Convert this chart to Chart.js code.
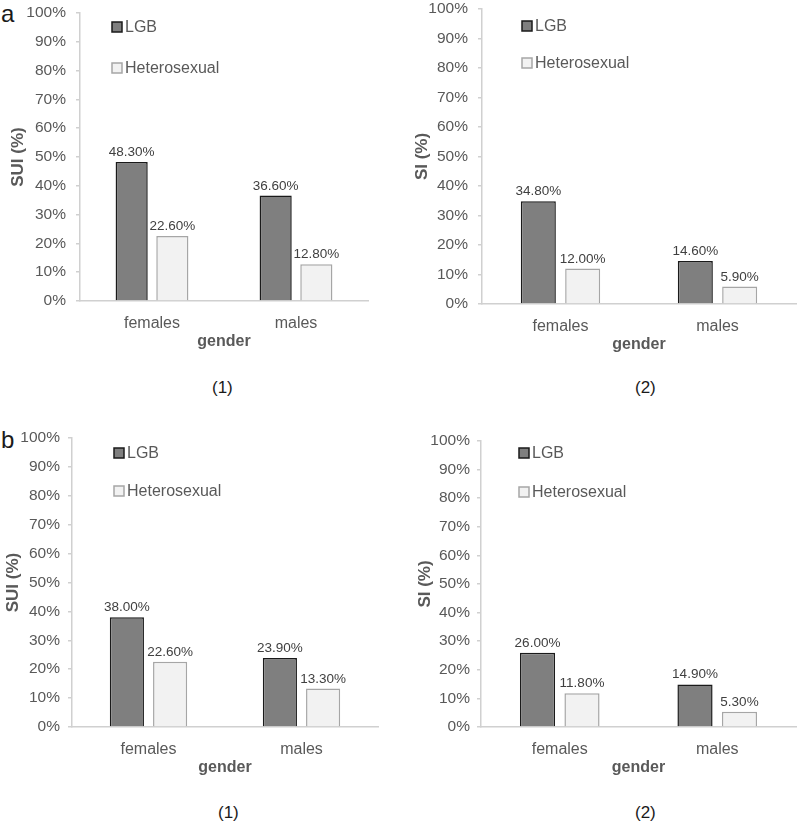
<!DOCTYPE html>
<html><head><meta charset="utf-8">
<script src="https://cdn.jsdelivr.net/npm/chart.js@4.4.1/dist/chart.umd.min.js"></script>
<style>
body{margin:0;background:#fff;width:797px;height:825px;position:relative;overflow:hidden;font-family:"Liberation Sans",Arial,sans-serif;}
canvas{position:absolute;}
.t{position:absolute;color:#1a1a1a;font-family:"Liberation Sans",Arial,sans-serif;line-height:1;white-space:nowrap;}
</style></head><body>
<div class="t" style="left:1px;top:2px;font-size:24px;">a</div>
<div class="t" style="left:1px;top:428px;font-size:24px;">b</div>
<div class="t" style="left:212px;top:379px;font-size:17px;">(1)</div>
<div class="t" style="left:635px;top:379px;font-size:17px;">(2)</div>
<div class="t" style="left:218px;top:804px;font-size:17px;">(1)</div>
<div class="t" style="left:635px;top:804px;font-size:17px;">(2)</div>
<canvas id="c0"></canvas><canvas id="c1"></canvas><canvas id="c2"></canvas><canvas id="c3"></canvas>
<script>
// ---- data ----
const categories = ['females', 'males'];
const seriesNames = ['LGB', 'Heterosexual'];
const a1LGB = [48.3, 36.6];
const a1Het = [22.6, 12.8];
const a2LGB = [34.8, 14.6];
const a2Het = [12.0, 5.9];
const b1LGB = [38.0, 23.9];
const b1Het = [22.6, 13.3];
const b2LGB = [26.0, 14.9];
const b2Het = [11.8, 5.3];
const yTitleSUI = 'SUI (%)';
const yTitleSI = 'SI (%)';
const xTitle = 'gender';
const yMin = 0, yMax = 100, yStep = 10;

// ---- layout (positions only) ----
const panels = [
  {id:'c0', lgb:a1LGB, het:a1Het, yTitle:yTitleSUI, left:0, top:0, w:398, h:400, axisX:80, cTop:13, cBottom:301, cRight:368, tickPad:10, titleX:18, lgX:32, lgY:9, lgGap:41},
  {id:'c1', lgb:a2LGB, het:a2Het, yTitle:yTitleSI, left:398, top:0, w:399, h:400, axisX:482, cTop:9, cBottom:304, cRight:796, tickPad:10, titleX:422, lgX:40, lgY:12, lgGap:37},
  {id:'c2', lgb:b1LGB, het:b1Het, yTitle:yTitleSUI, left:0, top:420, w:398, h:405, axisX:72, cTop:438, cBottom:727, cRight:378, tickPad:8, titleX:13, lgX:42, lgY:10, lgGap:38},
  {id:'c3', lgb:b2LGB, het:b2Het, yTitle:yTitleSI, left:398, top:420, w:399, h:405, axisX:481, cTop:441, cBottom:727, cRight:796, tickPad:7, titleX:425, lgX:38, lgY:7, lgGap:39}
];

const GRAY = '#595959';
const labelPlugin = {
  id: 'valLabels',
  afterDatasetsDraw(chart) {
    const ctx = chart.ctx;
    ctx.save();
    ctx.font = '13.5px "Liberation Sans", Arial, sans-serif';
    ctx.fillStyle = '#404040';
    ctx.textAlign = 'center';
    ctx.textBaseline = 'alphabetic';
    chart.data.datasets.forEach((ds, di) => {
      chart.getDatasetMeta(di).data.forEach((el, i) => {
        ctx.fillText(ds.data[i].toFixed(2) + '%', el.x, el.y - 6);
      });
    });
    ctx.restore();
  }
};
const legendPlugin = {
  id: 'insideLegend',
  afterDraw(chart, args, opts) {
    const ctx = chart.ctx, a = chart.chartArea;
    ctx.save();
    ctx.font = '16px "Liberation Sans", Arial, sans-serif';
    ctx.textBaseline = 'middle';
    chart.data.datasets.forEach((ds, i) => {
      const x = a.left + opts.dx, y = a.top + opts.dy + i * opts.gap;
      ctx.fillStyle = ds.backgroundColor;
      ctx.fillRect(x, y, 10, 10);
      ctx.strokeStyle = ds.borderColor;
      ctx.lineWidth = 1.5;
      ctx.strokeRect(x, y, 10, 10);
      ctx.fillStyle = GRAY;
      ctx.fillText(ds.label, x + 13, y + 5.5);
    });
    ctx.restore();
  }
};

const XH = 60;
panels.forEach(p => {
  const cv = document.getElementById(p.id);
  cv.style.left = p.left + 'px';
  cv.style.top = p.top + 'px';
  cv.style.width = p.w + 'px';
  cv.style.height = p.h + 'px';
  cv.width = p.w; cv.height = p.h;
  new Chart(cv, {
    type: 'bar',
    data: {
      labels: categories,
      datasets: [
        {label: seriesNames[0], data: p.lgb, backgroundColor: '#7f7f7f', borderColor: '#1a1a1a', borderWidth: 1.5, categoryPercentage: 0.565, barPercentage: 0.79},
        {label: seriesNames[1], data: p.het, backgroundColor: '#f2f2f2', borderColor: '#a6a6a6', borderWidth: 1.5, categoryPercentage: 0.565, barPercentage: 0.79}
      ]
    },
    options: {
      responsive: false,
      animation: false,
      devicePixelRatio: 1,
      layout: {padding: {left: 0, top: p.cTop - p.top, right: p.left + p.w - p.cRight, bottom: p.top + p.h - p.cBottom - XH}},
      plugins: {
        legend: {display: false},
        tooltip: {enabled: false},
        insideLegend: {dx: p.lgX, dy: p.lgY, gap: p.lgGap}
      },
      scales: {
        x: {
          grid: {display: false, drawTicks: false},
          border: {display: true, color: '#d0d0d0', width: 1.5},
          ticks: {color: GRAY, padding: 15, font: {family: '"Liberation Sans", Arial, sans-serif', size: 16, lineHeight: 1}},
          title: {display: true, text: xTitle, color: GRAY, font: {family: '"Liberation Sans", Arial, sans-serif', size: 16, weight: 'bold', lineHeight: 1}, padding: {top: 0, bottom: XH - 49}},
          afterFit(s) { s.height = XH; s.paddingLeft = 0; s.paddingRight = 0; }
        },
        y: {
          min: yMin, max: yMax,
          ticks: {stepSize: yStep, color: GRAY, padding: p.tickPad, callback: v => v + '%', font: {family: '"Liberation Sans", Arial, sans-serif', size: 15.5, lineHeight: 1}},
          grid: {drawOnChartArea: false, drawTicks: true, tickLength: 4, color: '#d0d0d0', lineWidth: 1.5},
          border: {display: true, color: '#d0d0d0', width: 1.5},
          title: {display: true, text: p.yTitle, color: GRAY, font: {family: '"Liberation Sans", Arial, sans-serif', size: 17, weight: 'bold', lineHeight: 1}, padding: {top: p.titleX - p.left - 8.5, bottom: 0}},
          afterFit(s) { s.width = p.axisX - p.left; s.paddingTop = 8; s.paddingBottom = 8; }
        }
      }
    },
    plugins: [labelPlugin, legendPlugin]
  });
});
</script>
</body></html>
